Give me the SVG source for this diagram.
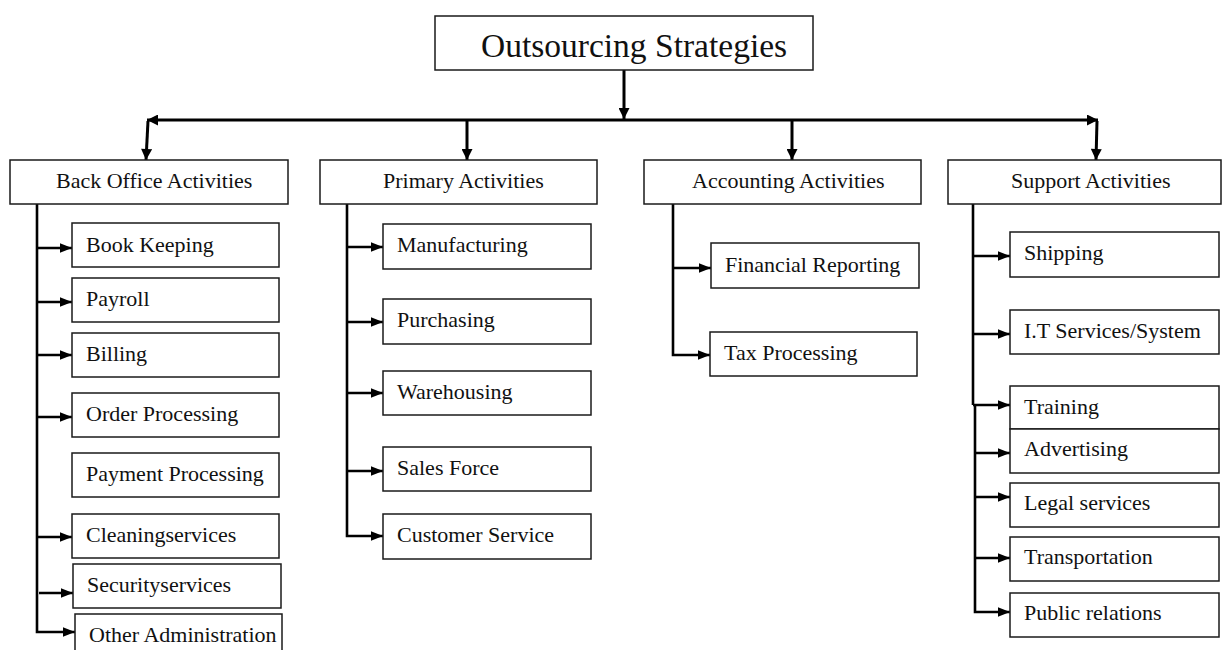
<svg xmlns="http://www.w3.org/2000/svg" width="1222" height="650" viewBox="0 0 1222 650">
  <style>
    .box { fill: #ffffff; stroke: #1a1a1a; stroke-width: 1.5; }
    .lbl { font-family: "Liberation Serif", "Times New Roman", serif; font-size: 22px; fill: #111; }
    .title { font-family: "Liberation Serif", "Times New Roman", serif; font-size: 33.5px; fill: #111; }
    .wire { fill: none; stroke: #000; stroke-width: 2.6; }
    .bus { fill: none; stroke: #000; stroke-width: 3; }
  </style>
  <defs>
    <marker id="head" viewBox="0 0 10 8" refX="10" refY="4" markerWidth="12" markerHeight="10" markerUnits="userSpaceOnUse" orient="auto-start-reverse">
      <path d="M0,0 L10,4 L0,8 z" fill="#000"/>
    </marker>
    <marker id="headBig" viewBox="0 0 10 10" refX="10" refY="5" markerWidth="12" markerHeight="11" markerUnits="userSpaceOnUse" orient="auto-start-reverse">
      <path d="M0,0 L10,5 L0,10 z" fill="#000"/>
    </marker>
  </defs>

  <!-- connectors -->
  <g id="connectors">
    <!-- root to bus -->
    <path class="bus" d="M624,70 L624,119" marker-end="url(#headBig)"/>
    <path class="bus" d="M147,120 L1098,120" marker-start="url(#headBig)" marker-end="url(#headBig)"/>
    <!-- bus drops -->
    <path class="bus" d="M148,121 L146,160" marker-end="url(#headBig)"/>
    <path class="bus" d="M467,121 L467,160" marker-end="url(#headBig)"/>
    <path class="bus" d="M792,121 L792,160" marker-end="url(#headBig)"/>
    <path class="bus" d="M1097,121 L1096,160" marker-end="url(#headBig)"/>

    <!-- back office trunk -->
    <path class="wire" d="M37,204 L37,632 L75,632" marker-end="url(#head)"/>
    <path class="wire" d="M37,248 L72,248" marker-end="url(#head)"/>
    <path class="wire" d="M37,302 L72,302" marker-end="url(#head)"/>
    <path class="wire" d="M37,355 L72,355" marker-end="url(#head)"/>
    <path class="wire" d="M37,417 L72,417" marker-end="url(#head)"/>
    <path class="wire" d="M37,537 L72,537" marker-end="url(#head)"/>
    <path class="wire" d="M39,593 L73,593" marker-end="url(#head)"/>

    <!-- primary trunk -->
    <path class="wire" d="M347,204 L347,536 L383,536" marker-end="url(#head)"/>
    <path class="wire" d="M347,247 L383,247" marker-end="url(#head)"/>
    <path class="wire" d="M347,322 L383,322" marker-end="url(#head)"/>
    <path class="wire" d="M347,393 L383,393" marker-end="url(#head)"/>
    <path class="wire" d="M347,471 L383,471" marker-end="url(#head)"/>

    <!-- accounting trunk -->
    <path class="wire" d="M673,204 L673,355 L710,355" marker-end="url(#head)"/>
    <path class="wire" d="M673,268 L711,268" marker-end="url(#head)"/>

    <!-- support trunk -->
    <path class="wire" d="M973,204 L973,405"/>
    <path class="wire" d="M975,405 L975,612 L1010,612" marker-end="url(#head)"/>
    <path class="wire" d="M973,256 L1010,256" marker-end="url(#head)"/>
    <path class="wire" d="M973,334 L1010,334" marker-end="url(#head)"/>
    <path class="wire" d="M973,405 L1010,405" marker-end="url(#head)"/>
    <path class="wire" d="M975,453 L1010,453" marker-end="url(#head)"/>
    <path class="wire" d="M975,497 L1010,497" marker-end="url(#head)"/>
    <path class="wire" d="M975,558 L1010,558" marker-end="url(#head)"/>
  </g>

  <!-- root -->
  <g id="root">
    <rect class="box" x="435" y="16" width="378" height="54"/>
    <text class="title" x="481" y="57">Outsourcing Strategies</text>
  </g>

  <!-- categories -->
  <g id="back-office">
    <rect class="box" x="10" y="160" width="278" height="44"/>
    <text class="lbl" x="56" y="188">Back Office Activities</text>
  </g>
  <g id="primary">
    <rect class="box" x="320" y="160" width="277" height="44"/>
    <text class="lbl" x="383" y="188">Primary Activities</text>
  </g>
  <g id="accounting">
    <rect class="box" x="644" y="160" width="277" height="44"/>
    <text class="lbl" x="692" y="188">Accounting Activities</text>
  </g>
  <g id="support">
    <rect class="box" x="948" y="160" width="273" height="44"/>
    <text class="lbl" x="1011" y="188">Support Activities</text>
  </g>

  <!-- back office items -->
  <g id="book-keeping"><rect class="box" x="72" y="223" width="207" height="44"/><text class="lbl" x="86" y="252">Book Keeping</text></g>
  <g id="payroll"><rect class="box" x="72" y="278" width="207" height="44"/><text class="lbl" x="86" y="306">Payroll</text></g>
  <g id="billing"><rect class="box" x="72" y="333" width="207" height="44"/><text class="lbl" x="86" y="361">Billing</text></g>
  <g id="order-processing"><rect class="box" x="72" y="393" width="207" height="44"/><text class="lbl" x="86" y="421">Order Processing</text></g>
  <g id="payment-processing"><rect class="box" x="72" y="453" width="207" height="44"/><text class="lbl" x="86" y="481">Payment Processing</text></g>
  <g id="cleaning"><rect class="box" x="72" y="514" width="207" height="44"/><text class="lbl" x="86" y="542">Cleaningservices</text></g>
  <g id="security"><rect class="box" x="73" y="564" width="208" height="44"/><text class="lbl" x="87" y="592">Securityservices</text></g>
  <g id="other-admin"><rect class="box" x="75" y="614" width="207" height="44"/><text class="lbl" x="89" y="642">Other Administration</text></g>

  <!-- primary items -->
  <g id="manufacturing"><rect class="box" x="383" y="224" width="208" height="45"/><text class="lbl" x="397" y="252">Manufacturing</text></g>
  <g id="purchasing"><rect class="box" x="383" y="299" width="208" height="45"/><text class="lbl" x="397" y="327">Purchasing</text></g>
  <g id="warehousing"><rect class="box" x="383" y="371" width="208" height="44"/><text class="lbl" x="397" y="399">Warehousing</text></g>
  <g id="sales-force"><rect class="box" x="383" y="447" width="208" height="44"/><text class="lbl" x="397" y="475">Sales Force</text></g>
  <g id="customer-service"><rect class="box" x="383" y="514" width="208" height="45"/><text class="lbl" x="397" y="542">Customer Service</text></g>

  <!-- accounting items -->
  <g id="financial-reporting"><rect class="box" x="711" y="243" width="208" height="45"/><text class="lbl" x="725" y="272">Financial Reporting</text></g>
  <g id="tax-processing"><rect class="box" x="710" y="332" width="207" height="44"/><text class="lbl" x="724" y="360">Tax Processing</text></g>

  <!-- support items -->
  <g id="shipping"><rect class="box" x="1010" y="232" width="209" height="45"/><text class="lbl" x="1024" y="260">Shipping</text></g>
  <g id="it-services"><rect class="box" x="1010" y="310" width="209" height="44"/><text class="lbl" x="1024" y="338">I.T Services/System</text></g>
  <g id="training"><rect class="box" x="1010" y="386" width="209" height="43"/><text class="lbl" x="1024" y="414">Training</text></g>
  <g id="advertising"><rect class="box" x="1010" y="429" width="209" height="44"/><text class="lbl" x="1024" y="456">Advertising</text></g>
  <g id="legal"><rect class="box" x="1010" y="483" width="209" height="44"/><text class="lbl" x="1024" y="510">Legal services</text></g>
  <g id="transportation"><rect class="box" x="1010" y="537" width="209" height="44"/><text class="lbl" x="1024" y="564">Transportation</text></g>
  <g id="public-relations"><rect class="box" x="1010" y="593" width="209" height="44"/><text class="lbl" x="1024" y="620">Public relations</text></g>
</svg>
